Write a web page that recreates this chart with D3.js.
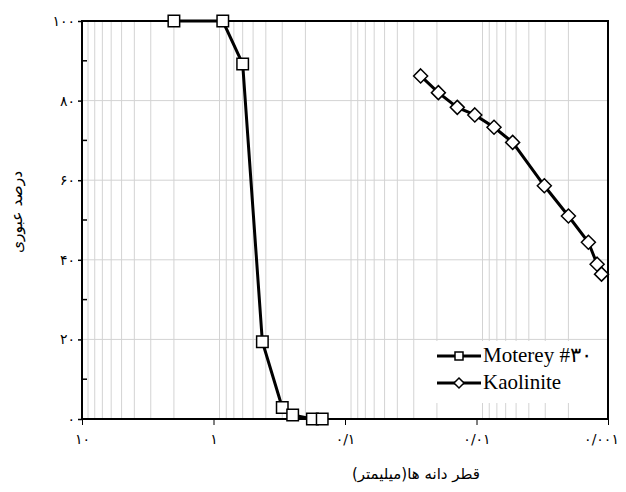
<!DOCTYPE html>
<html>
<head>
<meta charset="utf-8">
<script src="https://cdn.jsdelivr.net/npm/d3@7"></script>
<style>
  body { margin: 0; background: #fff; }
  svg { display: block; }
</style>
</head>
<body>
<svg id="chart" width="626" height="492"></svg>
<script>
// grain size (mm) and percent passing
const montereySize = [2.0, 0.85, 0.6, 0.425, 0.3, 0.25, 0.177, 0.149];
const montereyPass = [100, 100, 89.2, 19.4, 2.9, 1.0, 0, 0];

const kaoliniteSize = [0.0266, 0.0195, 0.014, 0.0103, 0.00736, 0.00531, 0.00305, 0.002, 0.00141, 0.00121, 0.00112];
const kaolinitePass = [86.2, 82.0, 78.3, 76.4, 73.3, 69.5, 58.6, 51.0, 44.4, 38.9, 36.4];

const xTicks = [10, 1, 0.1, 0.01, 0.001];
const xTickLabels = ['۱۰', '۱', '۰/۱', '۰/۰۱', '۰/۰۰۱'];
const yTicks = [0, 20, 40, 60, 80, 100];
const yMinorTicks = [10, 30, 50, 70, 90];

const fa = n => String(n).replace(/\d/g, d => '۰۱۲۳۴۵۶۷۸۹'[d]);

const svg = d3.select('#chart');
const pLeft = 82, pRight = 608, pTop = 21, pBottom = 419;

const x = d3.scaleLog().domain([10, 0.001]).range([pLeft, pRight]);
const y = d3.scaleLinear().domain([0, 100]).range([pBottom, pTop]);

// vertical grid at every 2..9 multiple of each decade
const minorX = [];
for (let e = -3; e <= 0; e++) {
  for (let m = 2; m <= 9; m++) minorX.push(m * Math.pow(10, e));
}
svg.append('g')
  .selectAll('line')
  .data(minorX)
  .enter()
  .append('line')
  .attr('x1', d => x(d))
  .attr('x2', d => x(d))
  .attr('y1', pTop)
  .attr('y2', pBottom)
  .attr('stroke', '#d3d3d3')
  .attr('stroke-width', 1);

// horizontal grid
svg.append('g')
  .selectAll('line')
  .data([20, 40, 60, 80])
  .enter()
  .append('line')
  .attr('x1', pLeft)
  .attr('x2', pRight)
  .attr('y1', d => y(d))
  .attr('y2', d => y(d))
  .attr('stroke', '#d3d3d3')
  .attr('stroke-width', 1);

// y axis
const yAxis = svg.append('g')
  .attr('transform', `translate(${pLeft},0)`)
  .call(d3.axisLeft(y).tickValues(yTicks).tickSize(4).tickFormat(fa));
yAxis.select('.domain').remove();
yAxis.selectAll('line').attr('stroke', '#000').attr('stroke-width', 1.5);
yAxis.selectAll('text')
  .attr('x', -7)
  .attr('font-family', 'DejaVu Sans')
  .attr('font-size', 14)
  .attr('fill', '#000');

// inward minor ticks
svg.append('g')
  .selectAll('line')
  .data(yMinorTicks)
  .enter()
  .append('line')
  .attr('x1', pLeft)
  .attr('x2', pLeft + 5)
  .attr('y1', d => y(d))
  .attr('y2', d => y(d))
  .attr('stroke', '#000')
  .attr('stroke-width', 1.5);

// x axis
const xAxis = svg.append('g')
  .attr('transform', `translate(0,${pBottom})`)
  .call(d3.axisBottom(x).tickValues(xTicks).tickSize(6)
    .tickFormat((d, i) => xTickLabels[i]));
xAxis.select('.domain').remove();
xAxis.selectAll('line').attr('stroke', '#000').attr('stroke-width', 1);
xAxis.selectAll('text')
  .attr('y', 15)
  .attr('font-family', 'DejaVu Sans')
  .attr('font-size', 14)
  .attr('fill', '#000')
  .attr('dx', (d, i) => i === xTicks.length - 1 ? -7 : 0);

// frame
svg.append('rect')
  .attr('x', pLeft)
  .attr('y', pTop)
  .attr('width', pRight - pLeft)
  .attr('height', pBottom - pTop)
  .attr('fill', 'none')
  .attr('stroke', '#000')
  .attr('stroke-width', 2);

// series
const line = d3.line()
  .x(d => x(d[0]))
  .y(d => y(d[1]));

const monterey = d3.zip(montereySize, montereyPass);
const kaolinite = d3.zip(kaoliniteSize, kaolinitePass);

svg.append('path')
  .datum(monterey)
  .attr('d', line)
  .attr('fill', 'none')
  .attr('stroke', '#000')
  .attr('stroke-width', 3);

svg.append('path')
  .datum(kaolinite)
  .attr('d', line)
  .attr('fill', 'none')
  .attr('stroke', '#000')
  .attr('stroke-width', 3);

const square = d3.symbol().type(d3.symbolSquare).size(132);
const diamond = 'M0,-7L7,0L0,7L-7,0Z';

svg.append('g')
  .selectAll('path')
  .data(monterey)
  .enter()
  .append('path')
  .attr('transform', d => `translate(${x(d[0])},${y(d[1])})`)
  .attr('d', square)
  .attr('fill', '#fff')
  .attr('stroke', '#000')
  .attr('stroke-width', 1.5);

svg.append('g')
  .selectAll('path')
  .data(kaolinite)
  .enter()
  .append('path')
  .attr('transform', d => `translate(${x(d[0])},${y(d[1])})`)
  .attr('d', diamond)
  .attr('fill', '#fff')
  .attr('stroke', '#000')
  .attr('stroke-width', 1.5);

// legend
const legend = svg.append('g');
legend.append('rect')
  .attr('x', 420)
  .attr('y', 341)
  .attr('width', 186)
  .attr('height', 62)
  .attr('fill', '#fff');

const legendItems = [
  { name: 'Moterey #۳۰', shape: 'square' },
  { name: 'Kaolinite', shape: 'diamond' }
];

legendItems.forEach((item, i) => {
  const ly = 356 + i * 27;
  legend.append('line')
    .attr('x1', 437)
    .attr('x2', 481)
    .attr('y1', ly)
    .attr('y2', ly)
    .attr('stroke', '#000')
    .attr('stroke-width', 3);
  legend.append('path')
    .attr('transform', `translate(459,${ly})`)
    .attr('d', item.shape === 'square'
      ? d3.symbol().type(d3.symbolSquare).size(64)()
      : 'M0,-5L5,0L0,5L-5,0Z')
    .attr('fill', '#fff')
    .attr('stroke', '#000')
    .attr('stroke-width', 1.5);
  legend.append('text')
    .attr('x', 483)
    .attr('y', ly + 6)
    .attr('font-family', 'Liberation Serif')
    .attr('font-size', 21)
    .text(item.name);
});

// axis titles
svg.append('text')
  .attr('x', 416)
  .attr('y', 479)
  .attr('text-anchor', 'middle')
  .attr('font-family', 'DejaVu Sans')
  .attr('font-size', 15)
  .text('قطر دانه ها(میلیمتر)');

svg.append('text')
  .attr('transform', 'translate(22,212) rotate(-90)')
  .attr('text-anchor', 'middle')
  .attr('font-family', 'DejaVu Sans')
  .attr('font-size', 15.5)
  .text('درصد عبوری');
</script>
</body>
</html>
